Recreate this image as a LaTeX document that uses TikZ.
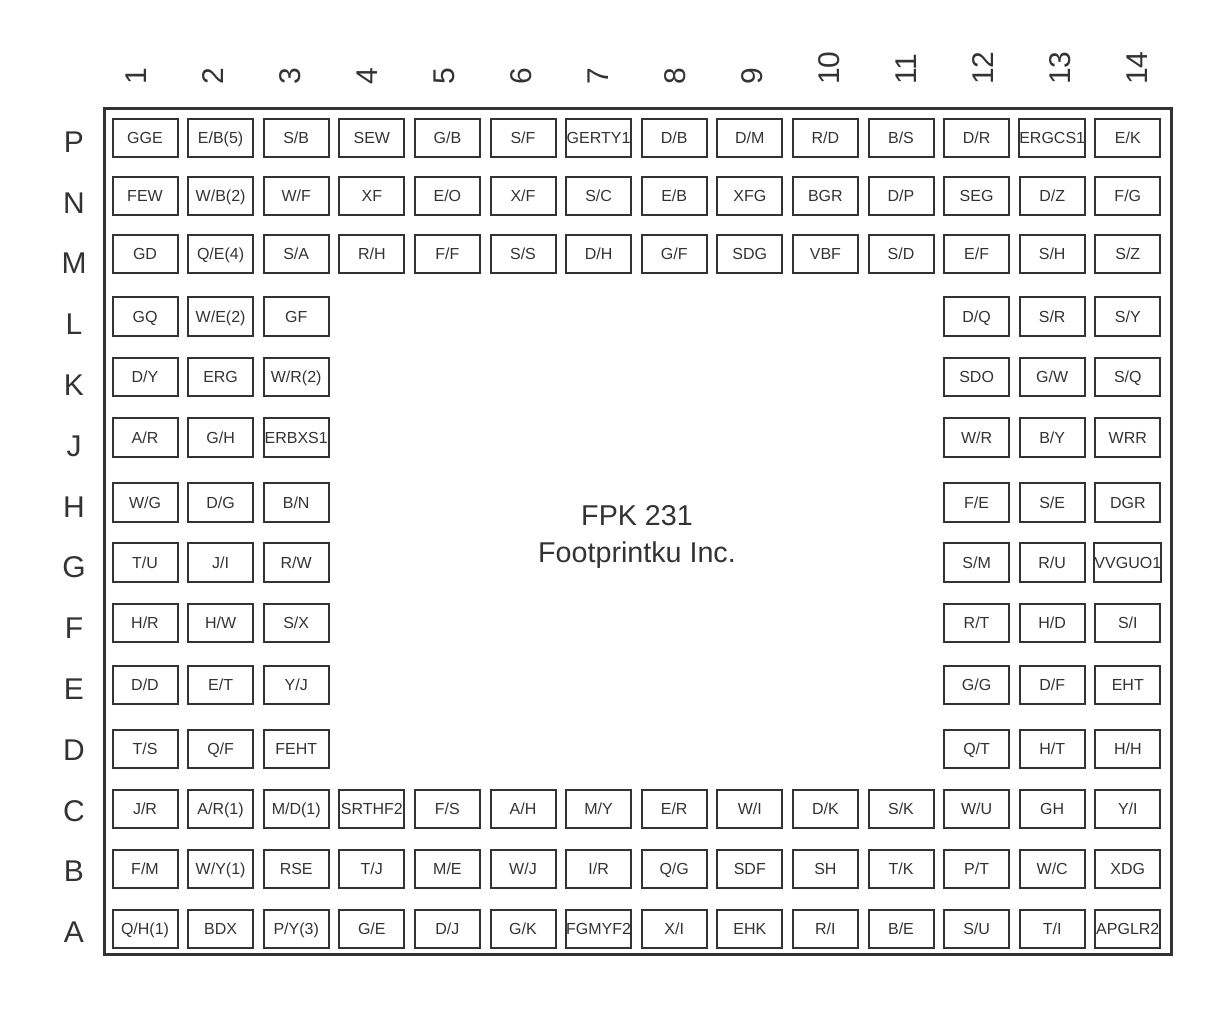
\documentclass[tikz,border=0pt]{standalone}
\usepackage{fontspec}
\setmainfont{Liberation Sans}
\usepackage{tikz}
\usepackage{xcolor}
\definecolor{ink}{RGB}{51,51,51}

\begin{document}
\begin{tikzpicture}[x=0.75pt,y=0.75pt,yscale=-1,xscale=1,
  pad/.style={draw={ink},line width=1.5pt,text={ink},minimum width=48.75pt,minimum height=28.9pt,inner sep=0pt,text height=8.6pt,text depth=0pt,font=\fontsize{12pt}{14pt}\selectfont},
  collabel/.style={text={ink},rotate=90,anchor=west,inner sep=0pt,font=\fontsize{22.5pt}{26pt}\selectfont},
  rowlabel/.style={text={ink},inner sep=0pt,text height=16.1pt,text depth=0pt,font=\fontsize{22.5pt}{26pt}\selectfont},
  title/.style={text={ink},anchor=base,inner sep=0pt,font=\fontsize{21.5pt}{26pt}\selectfont}]
\useasboundingbox (0,0) rectangle (1224,1008);

%Shape: Rectangle [package outline]
\draw  [color={ink},line width=2.25pt] (104.5,108) -- (1171.5,108) -- (1171.5,954.5) -- (104.5,954.5) -- cycle ;

% Text Node [column numbers]
\draw (136,85) node [collabel] (col1) {1};
\draw (213,85) node [collabel] (col2) {2};
\draw (290,85) node [collabel] (col3) {3};
\draw (367,85) node [collabel] (col4) {4};
\draw (444,85) node [collabel] (col5) {5};
\draw (521,85) node [collabel] (col6) {6};
\draw (598,85) node [collabel] (col7) {7};
\draw (675,85) node [collabel] (col8) {8};
\draw (752,85) node [collabel] (col9) {9};
\draw (829,85) node [collabel] (col10) {10};
\draw (906,85) node [collabel] (col11) {11};
\draw (983,85) node [collabel] (col12) {12};
\draw (1060,85) node [collabel] (col13) {13};
\draw (1137,85) node [collabel] (col14) {14};

% Text Node [row letters]
\draw (74,141.6) node [rowlabel] (rowP) {P};
\draw (74,202.4) node [rowlabel] (rowN) {N};
\draw (74,263.2) node [rowlabel] (rowM) {M};
\draw (74,324) node [rowlabel] (rowL) {L};
\draw (74,384.8) node [rowlabel] (rowK) {K};
\draw (74,445.6) node [rowlabel] (rowJ) {J};
\draw (74,506.4) node [rowlabel] (rowH) {H};
\draw (74,567.2) node [rowlabel] (rowG) {G};
\draw (74,628) node [rowlabel] (rowF) {F};
\draw (74,688.8) node [rowlabel] (rowE) {E};
\draw (74,749.6) node [rowlabel] (rowD) {D};
\draw (74,810.4) node [rowlabel] (rowC) {C};
\draw (74,871.2) node [rowlabel] (rowB) {B};
\draw (74,932) node [rowlabel] (rowA) {A};

%Pads row P
\draw (145,138) node [pad] (P1) {GGE};
\draw (220.6,138) node [pad] (P2) {E/B(5)};
\draw (296.2,138) node [pad] (P3) {S/B};
\draw (371.8,138) node [pad] (P4) {SEW};
\draw (447.4,138) node [pad] (P5) {G/B};
\draw (523,138) node [pad] (P6) {S/F};
\draw (598.6,138) node [pad] (P7) {GERTY1};
\draw (674.2,138) node [pad] (P8) {D/B};
\draw (749.8,138) node [pad] (P9) {D/M};
\draw (825.4,138) node [pad] (P10) {R/D};
\draw (901,138) node [pad] (P11) {B/S};
\draw (976.6,138) node [pad] (P12) {D/R};
\draw (1052.2,138) node [pad] (P13) {ERGCS1};
\draw (1127.8,138) node [pad] (P14) {E/K};

%Pads row N
\draw (145,196) node [pad] (N1) {FEW};
\draw (220.6,196) node [pad] (N2) {W/B(2)};
\draw (296.2,196) node [pad] (N3) {W/F};
\draw (371.8,196) node [pad] (N4) {XF};
\draw (447.4,196) node [pad] (N5) {E/O};
\draw (523,196) node [pad] (N6) {X/F};
\draw (598.6,196) node [pad] (N7) {S/C};
\draw (674.2,196) node [pad] (N8) {E/B};
\draw (749.8,196) node [pad] (N9) {XFG};
\draw (825.4,196) node [pad] (N10) {BGR};
\draw (901,196) node [pad] (N11) {D/P};
\draw (976.6,196) node [pad] (N12) {SEG};
\draw (1052.2,196) node [pad] (N13) {D/Z};
\draw (1127.8,196) node [pad] (N14) {F/G};

%Pads row M
\draw (145,254) node [pad] (M1) {GD};
\draw (220.6,254) node [pad] (M2) {Q/E(4)};
\draw (296.2,254) node [pad] (M3) {S/A};
\draw (371.8,254) node [pad] (M4) {R/H};
\draw (447.4,254) node [pad] (M5) {F/F};
\draw (523,254) node [pad] (M6) {S/S};
\draw (598.6,254) node [pad] (M7) {D/H};
\draw (674.2,254) node [pad] (M8) {G/F};
\draw (749.8,254) node [pad] (M9) {SDG};
\draw (825.4,254) node [pad] (M10) {VBF};
\draw (901,254) node [pad] (M11) {S/D};
\draw (976.6,254) node [pad] (M12) {E/F};
\draw (1052.2,254) node [pad] (M13) {S/H};
\draw (1127.8,254) node [pad] (M14) {S/Z};

%Pads row L
\draw (145,316.5) node [pad] (L1) {GQ};
\draw (220.6,316.5) node [pad] (L2) {W/E(2)};
\draw (296.2,316.5) node [pad] (L3) {GF};
\draw (976.6,316.5) node [pad] (L12) {D/Q};
\draw (1052.2,316.5) node [pad] (L13) {S/R};
\draw (1127.8,316.5) node [pad] (L14) {S/Y};

%Pads row K
\draw (145,377) node [pad] (K1) {D/Y};
\draw (220.6,377) node [pad] (K2) {ERG};
\draw (296.2,377) node [pad] (K3) {W/R(2)};
\draw (976.6,377) node [pad] (K12) {SDO};
\draw (1052.2,377) node [pad] (K13) {G/W};
\draw (1127.8,377) node [pad] (K14) {S/Q};

%Pads row J
\draw (145,437.7) node [pad] (J1) {A/R};
\draw (220.6,437.7) node [pad] (J2) {G/H};
\draw (296.2,437.7) node [pad] (J3) {ERBXS1};
\draw (976.6,437.7) node [pad] (J12) {W/R};
\draw (1052.2,437.7) node [pad] (J13) {B/Y};
\draw (1127.8,437.7) node [pad] (J14) {WRR};

%Pads row H
\draw (145,502.5) node [pad] (H1) {W/G};
\draw (220.6,502.5) node [pad] (H2) {D/G};
\draw (296.2,502.5) node [pad] (H3) {B/N};
\draw (976.6,502.5) node [pad] (H12) {F/E};
\draw (1052.2,502.5) node [pad] (H13) {S/E};
\draw (1127.8,502.5) node [pad] (H14) {DGR};

%Pads row G
\draw (145,562.7) node [pad] (G1) {T/U};
\draw (220.6,562.7) node [pad] (G2) {J/I};
\draw (296.2,562.7) node [pad] (G3) {R/W};
\draw (976.6,562.7) node [pad] (G12) {S/M};
\draw (1052.2,562.7) node [pad] (G13) {R/U};
\draw (1127.8,562.7) node [pad] (G14) {VVGUO1};

%Pads row F
\draw (145,623) node [pad] (F1) {H/R};
\draw (220.6,623) node [pad] (F2) {H/W};
\draw (296.2,623) node [pad] (F3) {S/X};
\draw (976.6,623) node [pad] (F12) {R/T};
\draw (1052.2,623) node [pad] (F13) {H/D};
\draw (1127.8,623) node [pad] (F14) {S/I};

%Pads row E
\draw (145,685) node [pad] (E1) {D/D};
\draw (220.6,685) node [pad] (E2) {E/T};
\draw (296.2,685) node [pad] (E3) {Y/J};
\draw (976.6,685) node [pad] (E12) {G/G};
\draw (1052.2,685) node [pad] (E13) {D/F};
\draw (1127.8,685) node [pad] (E14) {EHT};

%Pads row D
\draw (145,749) node [pad] (D1) {T/S};
\draw (220.6,749) node [pad] (D2) {Q/F};
\draw (296.2,749) node [pad] (D3) {FEHT};
\draw (976.6,749) node [pad] (D12) {Q/T};
\draw (1052.2,749) node [pad] (D13) {H/T};
\draw (1127.8,749) node [pad] (D14) {H/H};

%Pads row C
\draw (145,809) node [pad] (C1) {J/R};
\draw (220.6,809) node [pad] (C2) {A/R(1)};
\draw (296.2,809) node [pad] (C3) {M/D(1)};
\draw (371.8,809) node [pad] (C4) {SRTHF2};
\draw (447.4,809) node [pad] (C5) {F/S};
\draw (523,809) node [pad] (C6) {A/H};
\draw (598.6,809) node [pad] (C7) {M/Y};
\draw (674.2,809) node [pad] (C8) {E/R};
\draw (749.8,809) node [pad] (C9) {W/I};
\draw (825.4,809) node [pad] (C10) {D/K};
\draw (901,809) node [pad] (C11) {S/K};
\draw (976.6,809) node [pad] (C12) {W/U};
\draw (1052.2,809) node [pad] (C13) {GH};
\draw (1127.8,809) node [pad] (C14) {Y/I};

%Pads row B
\draw (145,869) node [pad] (B1) {F/M};
\draw (220.6,869) node [pad] (B2) {W/Y(1)};
\draw (296.2,869) node [pad] (B3) {RSE};
\draw (371.8,869) node [pad] (B4) {T/J};
\draw (447.4,869) node [pad] (B5) {M/E};
\draw (523,869) node [pad] (B6) {W/J};
\draw (598.6,869) node [pad] (B7) {I/R};
\draw (674.2,869) node [pad] (B8) {Q/G};
\draw (749.8,869) node [pad] (B9) {SDF};
\draw (825.4,869) node [pad] (B10) {SH};
\draw (901,869) node [pad] (B11) {T/K};
\draw (976.6,869) node [pad] (B12) {P/T};
\draw (1052.2,869) node [pad] (B13) {W/C};
\draw (1127.8,869) node [pad] (B14) {XDG};

%Pads row A
\draw (145,929) node [pad] (A1) {Q/H(1)};
\draw (220.6,929) node [pad] (A2) {BDX};
\draw (296.2,929) node [pad] (A3) {P/Y(3)};
\draw (371.8,929) node [pad] (A4) {G/E};
\draw (447.4,929) node [pad] (A5) {D/J};
\draw (523,929) node [pad] (A6) {G/K};
\draw (598.6,929) node [pad] (A7) {FGMYF2};
\draw (674.2,929) node [pad] (A8) {X/I};
\draw (749.8,929) node [pad] (A9) {EHK};
\draw (825.4,929) node [pad] (A10) {R/I};
\draw (901,929) node [pad] (A11) {B/E};
\draw (976.6,929) node [pad] (A12) {S/U};
\draw (1052.2,929) node [pad] (A13) {T/I};
\draw (1127.8,929) node [pad] (A14) {APGLR2};

% Text Node [part name]
\draw (637,525) node [title] (part) {FPK 231};
\draw (637,562) node [title] (maker) {Footprintku Inc.};

\end{tikzpicture}
\end{document}
